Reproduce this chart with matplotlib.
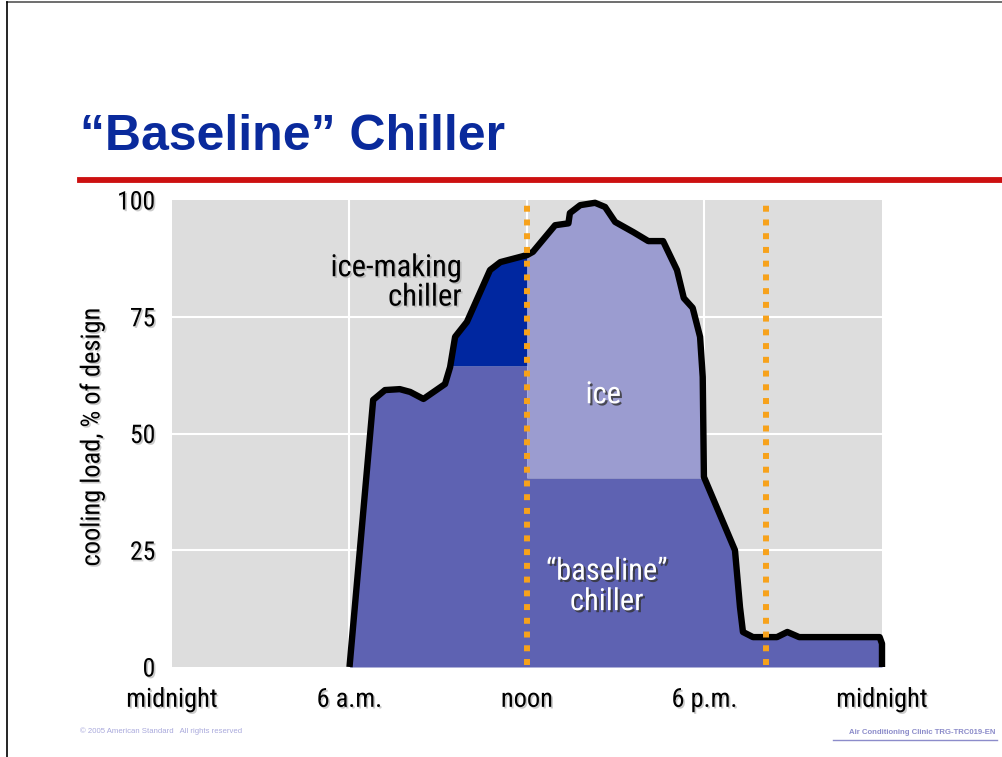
import numpy as np
import matplotlib
matplotlib.use("Agg")
import matplotlib.pyplot as plt
import matplotlib.patheffects as pe
from matplotlib.lines import Line2D

# ---- data ----
hours = [6.0, 6.8, 7.2, 7.7, 8.05, 8.5, 9.23, 9.4, 9.57, 9.97, 10.75, 11.1, 12.0,
         12.2, 12.95, 13.4, 13.45, 13.8, 14.3, 14.64, 14.98, 15.6, 16.1, 16.6,
         17.07, 17.3, 17.6, 17.85, 17.94, 17.98, 19.03, 19.2, 19.3, 19.64, 20.45,
         20.8, 21.2, 23.92, 24.0, 24.0]
load = [0, 57.2, 59.3, 59.5, 58.9, 57.4, 60.6, 64.2, 70.7, 73.9, 85.0, 86.7, 88.2,
        88.9, 94.6, 95.0, 97.2, 98.9, 99.4, 98.5, 95.3, 93.1, 91.2, 91.2,
        85.0, 79.0, 76.9, 70.7, 62.1, 40.7, 25.0, 12.8, 7.5, 6.4, 6.4,
        7.5, 6.4, 6.4, 5.0, 0]
ice_making_level = 64.5     # chiller capacity before noon
baseline_level = 40.5       # chiller capacity after noon
switch_hours = [12.0, 20.08]  # orange dotted markers
x_ticks = [0, 6, 12, 18, 24]
x_labels = ["midnight", "6 a.m.", "noon", "6 p.m.", "midnight"]
y_ticks = [0, 25, 50, 75, 100]

W, H = 1003, 757
fig = plt.figure(figsize=(W / 100, H / 100), dpi=100)
fig.patch.set_facecolor("white")

narrow = ["Roboto Condensed", "Archivo Narrow", "Pragati Narrow", "DejaVu Sans"]
regular = ["Liberation Sans", "DejaVu Sans"]

ax = fig.add_axes([172 / W, 1 - 667 / H, (882 - 172) / W, (667 - 200) / H])
ax.set_facecolor("#dddddd")
ax.set_xlim(0, 24)
ax.set_ylim(0, 100)
for s in ax.spines.values():
    s.set_visible(False)

for yv in [25, 50, 75]:
    ax.axhline(yv, color="white", lw=1.5, zorder=1)
for xv in [6, 12, 18]:
    ax.axvline(xv, color="white", lw=1.5, zorder=1)

base_col = "#5e62b2"
dark_col = "#0027a0"
light_col = "#9b9cd0"

xd = np.linspace(6, 24, 3601)
yd = np.interp(xd, hours[:-1], load[:-1])
cap = np.where(xd < 12, ice_making_level, baseline_level)
ax.fill_between(xd, 0, np.minimum(yd, cap), color=base_col, lw=0, zorder=2)
ax.fill_between(xd, ice_making_level, yd, where=(xd <= 12) & (yd > ice_making_level),
                color=dark_col, lw=0, interpolate=True, zorder=2)
ax.fill_between(xd, baseline_level, yd, where=(xd >= 12) & (yd > baseline_level),
                color=light_col, lw=0, interpolate=True, zorder=2)

ax.plot(hours, load, color="black", lw=4.6, solid_joinstyle="round",
        solid_capstyle="butt", clip_on=False, zorder=5)

for xv in switch_hours:
    ax.plot([xv, xv], [0.5, 99.3], color="#f7a21b", lw=4.3,
            linestyle=(0, (1, 1.3)), dash_capstyle="butt", zorder=6, clip_on=False)

shadow_dark = [pe.SimplePatchShadow(offset=(1.5, -1.5), shadow_rgbFace="#333333", alpha=0.8), pe.Normal()]
shadow_light = [pe.SimplePatchShadow(offset=(1.2, -1.2), shadow_rgbFace="#999999", alpha=0.5), pe.Normal()]

ax.set_xticks(x_ticks)
ax.set_xticklabels(x_labels, fontsize=19, family=narrow)
ax.set_yticks(y_ticks)
ax.set_yticklabels([str(v) for v in y_ticks], fontsize=18.5, family=narrow)
ax.tick_params(axis="x", length=0, pad=15)
ax.tick_params(axis="y", length=0, pad=12)
for t in ax.get_xticklabels() + ax.get_yticklabels():
    t.set_path_effects(shadow_light)

fig.text(92 / W, 1 - 437 / H, "cooling load, % of design", rotation=90,
         ha="center", va="center", fontsize=19, family=narrow,
         path_effects=shadow_light)

ax.text(9.8, 85.5, "ice-making", ha="right", va="center", family=narrow,
        fontsize=22, color="black", zorder=7, path_effects=shadow_light)
ax.text(9.8, 79.2, "chiller", ha="right", va="center", family=narrow,
        fontsize=22, color="black", zorder=7, path_effects=shadow_light)
ax.text(14.58, 58.3, "ice", ha="center", va="center", family=narrow,
        fontsize=22, color="white", zorder=7, path_effects=shadow_dark)
ax.text(14.7, 20.5, "\u201cbaseline\u201d", ha="center", va="center", family=narrow,
        fontsize=22, color="white", zorder=7, path_effects=shadow_dark)
ax.text(14.7, 14.0, "chiller", ha="center", va="center", family=narrow,
        fontsize=22, color="white", zorder=7, path_effects=shadow_dark)

fig.text(80 / W, 1 - 137 / H, "\u201cBaseline\u201d Chiller", ha="left", va="center",
         family=regular, fontsize=36, fontweight="bold", color="#0a2a9c")
fig.add_artist(Line2D([80 / W, 1.0], [1 - 179.5 / H] * 2, color="#cc1010", lw=4.2))
fig.add_artist(Line2D([7 / W, 1.0], [1 - 2 / H] * 2, color="#555555", lw=1.2))
fig.add_artist(Line2D([7.5 / W, 7.5 / W], [0, 1 - 2 / H], color="black", lw=1.2))

fig.text(80 / W, 1 - 731 / H, "\u00a9 2005 American Standard   All rights reserved",
         ha="left", va="center", family=regular, fontsize=5.6, color="#a9a9dc")
fig.text(995 / W, 1 - 732 / H, "Air Conditioning Clinic TRG-TRC019-EN",
         ha="right", va="center", family=regular, fontsize=5.6, fontweight="bold",
         color="#8c8cca")
fig.add_artist(Line2D([833 / W, 997 / W], [1 - 740 / H] * 2, color="#8c8cca", lw=1.0))

fig.savefig("out.png", dpi=100, facecolor="white")
